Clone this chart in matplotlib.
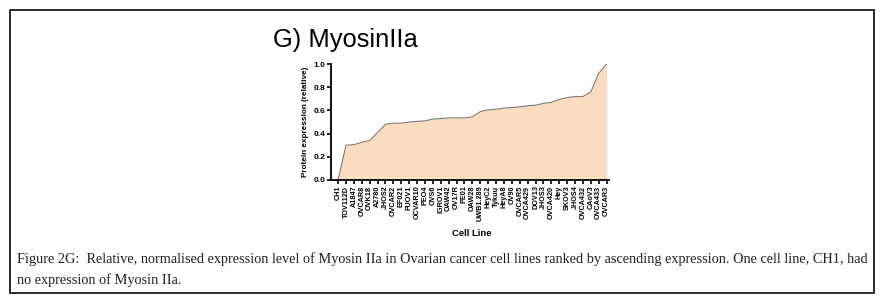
import matplotlib
matplotlib.use("Agg")
import matplotlib.pyplot as plt
from matplotlib.patches import Rectangle

cell_lines = ["CH1", "TOV112D", "A1847", "OVCAR8", "OVK18", "A2780", "JHOS2", "OVCAR2",
              "EF021", "FUOV1", "OCVAR10", "PEO4", "OVS6", "IGROV1", "OAW42", "OV17R",
              "PE01", "OAW28", "UWB1.289", "HeyC2", "Tykuu", "HeyA8", "OV90", "OVCAR5",
              "OVCA429", "DOV13", "JHOS3", "OVCA420", "Hey", "SKOV3", "JHOS4", "OVCA432",
              "CAoV3", "OVCA433", "OVCAR3"]
expression = [0.0, 0.30, 0.305, 0.325, 0.34, 0.41, 0.48, 0.49, 0.49, 0.50, 0.505, 0.51,
              0.525, 0.53, 0.535, 0.535, 0.535, 0.545, 0.59, 0.605, 0.61, 0.62, 0.625,
              0.63, 0.64, 0.645, 0.66, 0.67, 0.695, 0.71, 0.72, 0.72, 0.76, 0.92, 1.0]
y_ticks = [0.0, 0.2, 0.4, 0.6, 0.8, 1.0]

caption_1 = ("Figure 2G:  Relative, normalised expression level of Myosin IIa in Ovarian cancer cell lines "
             "ranked by ascending expression. One cell line, CH1, had")
caption_2 = "no expression of Myosin IIa."

plt.rcParams["font.family"] = "Liberation Sans"

fig = plt.figure(figsize=(8.8, 3.01), dpi=100)

# outer frame
fig.patches.append(Rectangle((10 / 880, 8 / 301), 864 / 880, 283 / 301, transform=fig.transFigure,
                             fill=False, edgecolor="#1a1a1a", linewidth=1.3))

ax = fig.add_axes([331 / 880, 1 - 180 / 301, 278 / 880, 116 / 301])
x = range(len(cell_lines))
ax.fill_between(x, expression, 0, color="#fbdcbf", linewidth=0)
ax.plot(x, expression, color="#7a7a7a", linewidth=0.8)

ax.set_xlim(-0.9, 34.3)
ax.set_ylim(0, 1.0)
ax.set_yticks(y_ticks)
ax.set_yticklabels([f"{v:.1f}" for v in y_ticks], fontsize=6, fontweight="bold")
ax.set_xticks(list(x))
ax.set_xticklabels(cell_lines, rotation=90, fontsize=5.2, fontweight="bold")
for s in ["top", "right"]:
    ax.spines[s].set_visible(False)
for s in ["left", "bottom"]:
    ax.spines[s].set_linewidth(1.3)
ax.tick_params(axis="both", width=1.2, length=3, pad=1)
ax.set_ylabel("Protein expression (relative)", fontsize=5.9, fontweight="bold", labelpad=3)

fig.text(472 / 880, 1 - 234 / 301, "Cell Line", fontsize=6.8, fontweight="bold", ha="center", va="center")
fig.text(273 / 880, 1 - 40 / 301, "G) MyosinIIa", fontsize=18.4, ha="left", va="center")

fig.text(17 / 880, 1 - 259 / 301, caption_1, fontsize=10.25, family="Liberation Serif",
         color="#231f20", ha="left", va="center")
fig.text(17 / 880, 1 - 280 / 301, caption_2, fontsize=10.25, family="Liberation Serif",
         color="#231f20", ha="left", va="center")

fig.savefig("out.png", dpi=100)
